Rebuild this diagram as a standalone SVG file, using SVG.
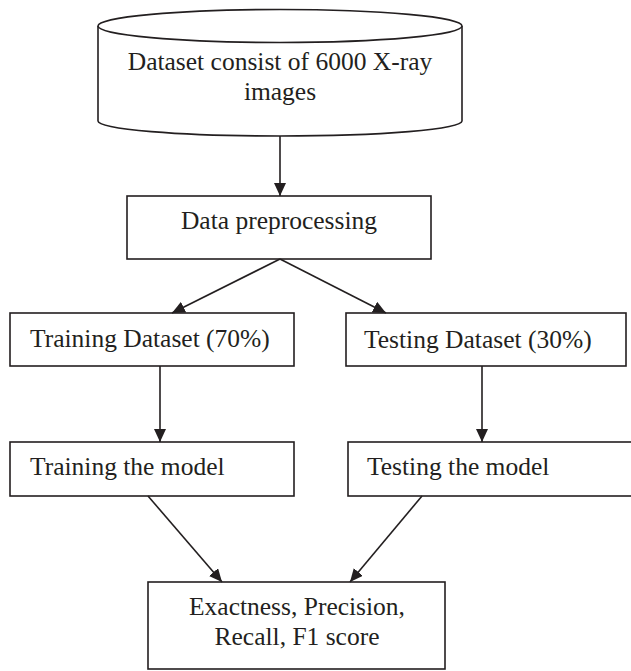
<svg xmlns="http://www.w3.org/2000/svg" width="631" height="671" viewBox="0 0 631 671">
  <style>
    .box { fill: #ffffff; stroke: #231f20; stroke-width: 1.6; }
    .edge { fill: none; stroke: #231f20; stroke-width: 1.6; marker-end: url(#arrow); }
    text { font-family: "Liberation Serif", "Times New Roman", serif; font-size: 25.5px; fill: #231f20; }
    .c { text-anchor: middle; }
  </style>
  <defs>
    <marker id="arrow" viewBox="0 0 13 12" refX="13" refY="6" markerWidth="13" markerHeight="12" markerUnits="userSpaceOnUse" orient="auto">
      <path d="M0,0 L13,6 L0,12 Z" fill="#231f20"/>
    </marker>
  </defs>
  <rect width="631" height="671" fill="#ffffff"/>

  <g id="dataset">
    <path class="box" d="M98,26 L98,121 A182,15 0 0 0 462,121 L462,26"/>
    <ellipse class="box" cx="280" cy="26" rx="182" ry="16.5"/>
    <text class="c" x="280" y="70">Dataset consist of 6000 X-ray</text>
    <text class="c" x="280" y="100">images</text>
  </g>

  <g id="preprocessing">
    <rect class="box" x="127" y="196" width="304" height="63"/>
    <text class="c" x="279" y="229">Data preprocessing</text>
  </g>

  <g id="training-dataset">
    <rect class="box" x="10" y="313" width="284" height="53"/>
    <text x="30" y="347">Training Dataset (70%)</text>
  </g>

  <g id="testing-dataset">
    <rect class="box" x="346" y="313" width="280" height="53"/>
    <text x="364" y="348">Testing Dataset (30%)</text>
  </g>

  <g id="training-model">
    <rect class="box" x="10" y="442" width="284" height="54"/>
    <text x="30" y="475">Training the model</text>
  </g>

  <g id="testing-model">
    <rect class="box" x="348" y="442" width="292" height="54"/>
    <text x="367" y="475">Testing the model</text>
  </g>

  <g id="metrics">
    <rect class="box" x="148" y="582" width="297" height="87"/>
    <text class="c" x="297" y="615">Exactness, Precision,</text>
    <text class="c" x="297" y="645">Recall, F1 score</text>
  </g>

  <g id="connectors">
    <line class="edge" x1="280" y1="136" x2="280" y2="196"/>
    <line class="edge" x1="280" y1="259" x2="172" y2="313"/>
    <line class="edge" x1="280" y1="259" x2="386" y2="313"/>
    <line class="edge" x1="160" y1="366" x2="160" y2="442"/>
    <line class="edge" x1="482" y1="366" x2="482" y2="442"/>
    <line class="edge" x1="148" y1="496" x2="222" y2="582"/>
    <line class="edge" x1="422" y1="496" x2="350" y2="582"/>
  </g>
</svg>
